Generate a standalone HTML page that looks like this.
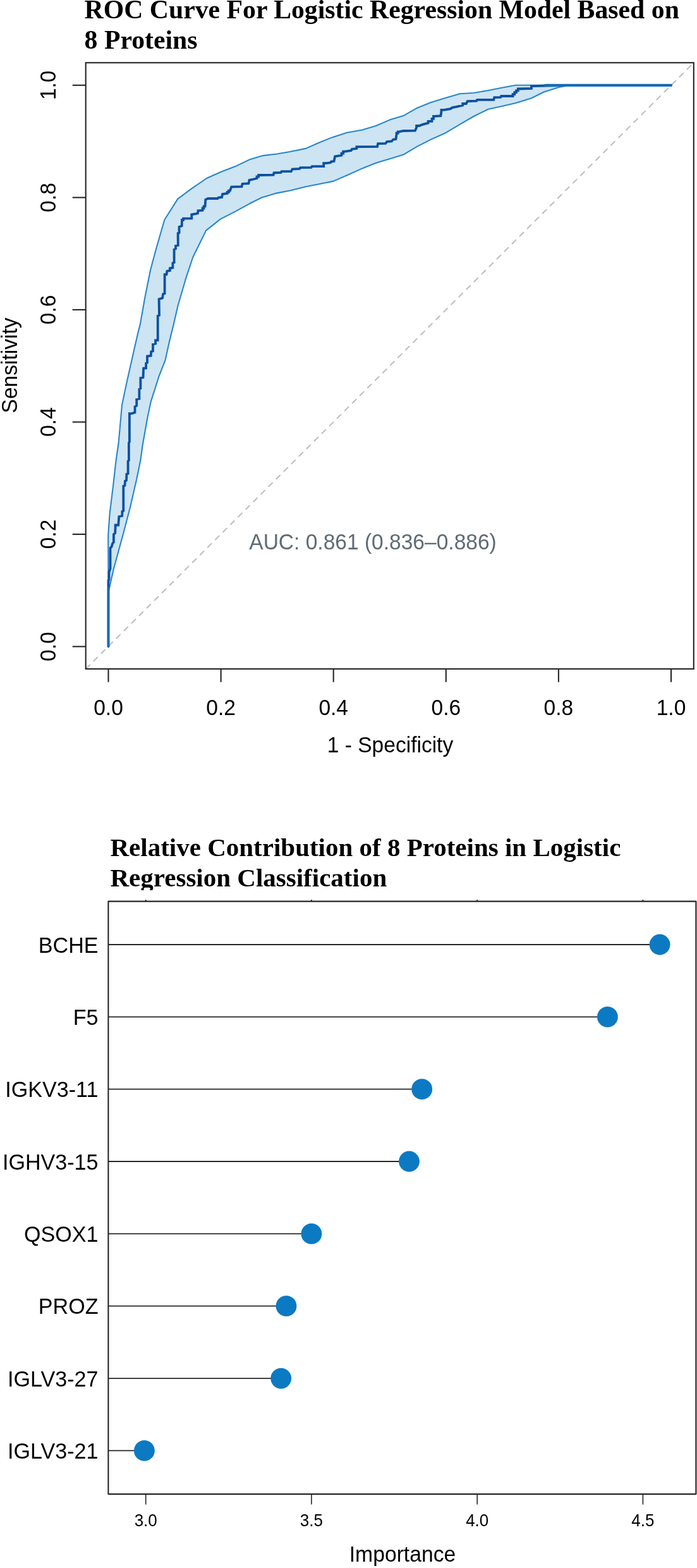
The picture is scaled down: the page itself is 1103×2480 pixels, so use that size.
<!DOCTYPE html>
<html lang="en"><head><meta charset="utf-8"><title>ROC Curve and Protein Importance</title>
<style>
html,body{margin:0;padding:0;background:#fff}
body{width:1103px;height:2480px;overflow:hidden}
svg{display:block}
</style></head><body>
<svg width="1103" height="2480" viewBox="0 0 1103 2480">
<rect width="1103" height="2480" fill="#fff"/>
<g style="font-family:'Liberation Serif',serif;font-weight:bold;font-size:41.75px" fill="#000">
<text x="133.6" y="29.1">ROC Curve For Logistic Regression Model Based on</text>
<text x="133.6" y="77.3">8 Proteins</text>
</g>
<g style="font-family:'Liberation Serif',serif;font-weight:bold;font-size:41px" fill="#000">
<text x="174.5" y="1354">Relative Contribution of 8 Proteins in Logistic</text>
<text x="174.5" y="1402">Regression Classification</text>
</g>
<rect x="160" y="1408" width="900" height="14" fill="#fff"/>
<polygon points="171.5,937.0 171.2,846.9 173.6,812.4 179.0,768.9 183.5,729.0 187.7,700.0 193.0,640.6 199.9,607.9 211.7,555.3 218.0,528.1 222.0,512.0 229.0,472.3 238.1,427.0 247.5,392.0 260.4,347.5 281.3,314.6 303.1,298.3 327.0,282.0 348.8,272.2 372.7,263.1 394.5,252.6 416.2,246.1 438.0,243.5 458.6,240.0 483.9,234.9 503.5,226.2 525.3,217.4 549.2,209.8 573.1,205.5 594.9,199.0 616.7,189.6 638.4,183.1 660.2,170.7 681.9,162.0 703.9,155.3 727.9,148.3 749.6,147.0 771.4,143.3 793.1,139.0 816.0,134.8 1062.0,134.8 1062.0,134.8 901.9,134.8 884.5,137.9 860.6,145.5 841.0,155.3 816.0,162.9 793.1,168.3 772.5,172.7 749.6,184.0 727.9,196.6 703.9,210.8 681.9,220.6 660.2,231.6 638.4,244.6 616.7,251.2 594.9,257.7 573.1,266.4 551.4,276.2 527.4,286.6 505.7,291.0 483.9,295.3 458.6,301.5 435.8,305.9 414.1,312.5 394.5,322.3 374.9,333.1 348.7,346.6 326.0,364.6 305.2,407.0 294.3,439.7 281.6,483.2 274.5,514.0 267.9,540.8 261.5,569.8 251.5,595.2 238.8,635.1 233.4,660.5 225.5,705.0 222.5,727.2 216.2,758.0 206.2,801.5 195.3,843.2 179.9,899.5 171.5,937.0" fill="#cde4f3" stroke="none"/>
<line x1="135.7" y1="1058.0" x2="1097.8" y2="99.2" stroke="#b1bbc0" stroke-width="1.8" stroke-dasharray="9.8 7.2"/>
<polyline points="171.5,937.0 171.2,846.9 173.6,812.4 179.0,768.9 183.5,729.0 187.7,700.0 193.0,640.6 199.9,607.9 211.7,555.3 218.0,528.1 222.0,512.0 229.0,472.3 238.1,427.0 247.5,392.0 260.4,347.5 281.3,314.6 303.1,298.3 327.0,282.0 348.8,272.2 372.7,263.1 394.5,252.6 416.2,246.1 438.0,243.5 458.6,240.0 483.9,234.9 503.5,226.2 525.3,217.4 549.2,209.8 573.1,205.5 594.9,199.0 616.7,189.6 638.4,183.1 660.2,170.7 681.9,162.0 703.9,155.3 727.9,148.3 749.6,147.0 771.4,143.3 793.1,139.0 816.0,134.8 1062.0,134.8" fill="none" stroke="#2686cd" stroke-width="2.1" stroke-linejoin="round"/>
<polyline points="171.5,937.0 179.9,899.5 195.3,843.2 206.2,801.5 216.2,758.0 222.5,727.2 225.5,705.0 233.4,660.5 238.8,635.1 251.5,595.2 261.5,569.8 267.9,540.8 274.5,514.0 281.6,483.2 294.3,439.7 305.2,407.0 326.0,364.6 348.7,346.6 374.9,333.1 394.5,322.3 414.1,312.5 435.8,305.9 458.6,301.5 483.9,295.3 505.7,291.0 527.4,286.6 551.4,276.2 573.1,266.4 594.9,257.7 616.7,251.2 638.4,244.6 660.2,231.6 681.9,220.6 703.9,210.8 727.9,196.6 749.6,184.0 772.5,172.7 793.1,168.3 816.0,162.9 841.0,155.3 860.6,145.5 884.5,137.9 901.9,134.8 1062.0,134.8" fill="none" stroke="#2686cd" stroke-width="2.1" stroke-linejoin="round"/>
<polyline points="171.5,1022.6 171.5,918.0 172.5,917.0 172.5,905.0 174.5,899.5 174.5,866.8 176.5,865.0 178.1,859.6 179.9,857.5 179.9,845.0 182.2,843.0 182.6,834.2 182.6,830.5 187.2,830.5 188.4,817.0 193.2,816.0 193.5,808.8 195.3,807.9 195.3,768.9 197.5,768.0 198.0,760.7 200.0,759.8 200.4,749.9 202.6,749.0 202.6,729.0 203.9,728.1 203.9,700.0 204.9,699.0 204.9,659.6 204.9,654.2 208.0,654.2 213.5,652.3 213.5,643.3 216.2,641.5 216.2,631.5 220.4,630.6 220.4,615.2 222.4,614.3 222.4,597.9 226.5,597.0 227.1,582.5 231.1,582.2 231.1,574.4 233.0,573.5 233.0,563.5 238.8,562.6 239.2,556.2 242.0,555.3 242.0,544.5 246.1,543.5 246.1,538.1 249.7,538.1 249.7,499.5 252.0,498.6 251.6,473.2 257.1,471.4 258.0,465.1 260.6,464.2 260.6,437.0 260.6,434.2 263.5,434.2 264.4,428.8 268.9,427.9 268.9,424.3 273.4,423.4 273.4,416.1 275.6,415.2 275.6,394.3 278.0,393.4 278.0,388.9 281.8,388.0 281.6,369.0 283.6,368.0 283.5,359.0 287.7,357.2 287.9,350.0 287.9,347.9 290.1,347.9 290.1,345.7 292.4,345.7 303.3,345.3 303.3,339.4 312.9,337.5 313.5,333.2 320.5,332.7 320.5,329.5 322.5,329.5 322.5,326.4 324.5,326.4 325.3,315.7 329.2,314.0 344.4,314.0 345.5,312.5 351.0,312.0 352.1,307.0 359.7,305.9 359.7,303.8 361.9,303.8 361.9,301.6 364.0,301.6 366.2,295.7 382.5,295.1 383.6,290.7 393.4,290.1 394.5,284.8 401.0,283.5 406.4,282.0 406.4,279.5 409.1,279.5 409.1,277.0 411.9,277.0 432.6,276.6 433.6,273.3 444.5,272.9 445.6,271.1 460.8,271.1 462.6,267.5 474.0,267.0 475.2,265.2 492.6,264.9 493.7,263.1 512.2,263.1 512.2,258.1 515.5,258.1 523.1,257.3 524.2,255.5 528.5,255.1 530.1,247.5 540.5,245.7 540.5,242.6 543.2,242.6 543.2,239.6 545.9,239.6 555.7,238.1 556.8,235.9 564.4,234.9 564.4,232.2 571.0,232.2 597.1,231.8 598.2,227.2 610.1,226.8 612.3,224.0 619.9,223.5 622.1,220.7 626.4,220.1 627.5,213.1 627.5,210.7 629.7,210.7 629.7,208.3 631.9,208.3 638.4,207.0 656.9,206.6 659.1,201.8 659.1,199.0 663.4,199.0 668.9,196.8 677.6,194.6 677.6,191.8 683.5,191.8 683.5,187.8 686.0,187.8 686.0,183.8 688.6,183.8 697.4,183.1 698.4,177.0 698.4,173.8 702.8,173.8 712.6,172.2 715.9,170.1 722.4,168.8 732.2,166.6 732.2,164.0 737.7,164.0 739.8,160.1 754.0,159.6 755.1,157.9 781.2,157.9 782.3,154.2 792.1,153.8 793.1,152.0 811.6,152.0 811.6,149.1 814.3,149.1 814.3,146.2 817.0,146.2 817.0,143.4 819.8,143.4 819.8,140.5 822.5,140.5 841.0,140.0 841.0,136.1 844.3,136.1 864.9,135.5 900.0,134.8 1062.0,134.8" fill="none" stroke="#0b51a1" stroke-width="3.8" stroke-linejoin="miter" stroke-linecap="round"/>
<line x1="863" y1="134.8" x2="1062" y2="134.8" stroke="#156bb8" stroke-width="4.2" stroke-linecap="round"/>
<line x1="171.5" y1="1022.6" x2="171.5" y2="930" stroke="#156bb8" stroke-width="3.4" stroke-linecap="round"/>
<rect x="135.7" y="99.2" width="962.0999999999999" height="958.8" fill="none" stroke="#262626" stroke-width="2.1"/>
<g stroke="#262626" stroke-width="2.1">
<line x1="171.5" y1="1058.0" x2="171.5" y2="1078.8"/>
<line x1="135.7" y1="1022.6" x2="114.7" y2="1022.6"/>
<line x1="349.6" y1="1058.0" x2="349.6" y2="1078.8"/>
<line x1="135.7" y1="845.0" x2="114.7" y2="845.0"/>
<line x1="527.7" y1="1058.0" x2="527.7" y2="1078.8"/>
<line x1="135.7" y1="667.5" x2="114.7" y2="667.5"/>
<line x1="705.8" y1="1058.0" x2="705.8" y2="1078.8"/>
<line x1="135.7" y1="489.9" x2="114.7" y2="489.9"/>
<line x1="883.9" y1="1058.0" x2="883.9" y2="1078.8"/>
<line x1="135.7" y1="312.4" x2="114.7" y2="312.4"/>
<line x1="1062.0" y1="1058.0" x2="1062.0" y2="1078.8"/>
<line x1="135.7" y1="134.8" x2="114.7" y2="134.8"/>
</g>
<text transform="translate(171.5 1130.8) scale(1 1.035)" style="font-family:'Liberation Sans',sans-serif;font-size:33.55px" fill="#000" text-anchor="middle">0.0</text>
<text transform="translate(88.0 1022.6) rotate(-90) scale(1 1.035)" style="font-family:'Liberation Sans',sans-serif;font-size:33.55px" fill="#000" text-anchor="middle">0.0</text>
<text transform="translate(349.6 1130.8) scale(1 1.035)" style="font-family:'Liberation Sans',sans-serif;font-size:33.55px" fill="#000" text-anchor="middle">0.2</text>
<text transform="translate(88.0 845.0) rotate(-90) scale(1 1.035)" style="font-family:'Liberation Sans',sans-serif;font-size:33.55px" fill="#000" text-anchor="middle">0.2</text>
<text transform="translate(527.7 1130.8) scale(1 1.035)" style="font-family:'Liberation Sans',sans-serif;font-size:33.55px" fill="#000" text-anchor="middle">0.4</text>
<text transform="translate(88.0 667.5) rotate(-90) scale(1 1.035)" style="font-family:'Liberation Sans',sans-serif;font-size:33.55px" fill="#000" text-anchor="middle">0.4</text>
<text transform="translate(705.8 1130.8) scale(1 1.035)" style="font-family:'Liberation Sans',sans-serif;font-size:33.55px" fill="#000" text-anchor="middle">0.6</text>
<text transform="translate(88.0 489.9) rotate(-90) scale(1 1.035)" style="font-family:'Liberation Sans',sans-serif;font-size:33.55px" fill="#000" text-anchor="middle">0.6</text>
<text transform="translate(883.9 1130.8) scale(1 1.035)" style="font-family:'Liberation Sans',sans-serif;font-size:33.55px" fill="#000" text-anchor="middle">0.8</text>
<text transform="translate(88.0 312.4) rotate(-90) scale(1 1.035)" style="font-family:'Liberation Sans',sans-serif;font-size:33.55px" fill="#000" text-anchor="middle">0.8</text>
<text transform="translate(1062.0 1130.8) scale(1 1.035)" style="font-family:'Liberation Sans',sans-serif;font-size:33.55px" fill="#000" text-anchor="middle">1.0</text>
<text transform="translate(88.0 134.8) rotate(-90) scale(1 1.035)" style="font-family:'Liberation Sans',sans-serif;font-size:33.55px" fill="#000" text-anchor="middle">1.0</text>
<text transform="translate(617.5 1190.4) scale(1 1.035)" style="font-family:'Liberation Sans',sans-serif;font-size:33.55px" fill="#000" text-anchor="middle">1 - Specificity</text>
<text transform="translate(26.8 578.0) rotate(-90) scale(1 1.035)" style="font-family:'Liberation Sans',sans-serif;font-size:33.55px" fill="#000" text-anchor="middle">Sensitivity</text>
<text transform="translate(590.0 868.7) scale(1 1.035)" style="font-family:'Liberation Sans',sans-serif;font-size:33.55px" fill="#606c74" text-anchor="middle">AUC: 0.861 (0.836–0.886)</text>
<g stroke="#262626" stroke-width="1.6">
<line x1="230.7" y1="1425.6" x2="230.7" y2="1423.1" stroke-width="2"/>
<line x1="230.7" y1="2363.1" x2="230.7" y2="2379.6"/>
<line x1="492.9" y1="1425.6" x2="492.9" y2="1423.1" stroke-width="2"/>
<line x1="492.9" y1="2363.1" x2="492.9" y2="2379.6"/>
<line x1="755.2" y1="1425.6" x2="755.2" y2="1423.1" stroke-width="2"/>
<line x1="755.2" y1="2363.1" x2="755.2" y2="2379.6"/>
<line x1="1017.4" y1="1425.6" x2="1017.4" y2="1423.1" stroke-width="2"/>
<line x1="1017.4" y1="2363.1" x2="1017.4" y2="2379.6"/>
</g>
<rect x="171.4" y="1425.6" width="930.0" height="937.5" fill="none" stroke="#262626" stroke-width="2.1" stroke-linejoin="round"/>
<line x1="171.4" y1="1494.0" x2="1044.1" y2="1494.0" stroke="#262626" stroke-width="1.8"/>
<circle cx="1044.1" cy="1494.0" r="16.4" fill="#0b7ac3"/>
<line x1="171.4" y1="1608.3" x2="961.4" y2="1608.3" stroke="#262626" stroke-width="1.8"/>
<circle cx="961.4" cy="1608.3" r="16.4" fill="#0b7ac3"/>
<line x1="171.4" y1="1722.7" x2="667.7" y2="1722.7" stroke="#262626" stroke-width="1.8"/>
<circle cx="667.7" cy="1722.7" r="16.4" fill="#0b7ac3"/>
<line x1="171.4" y1="1837.0" x2="647.5" y2="1837.0" stroke="#262626" stroke-width="1.8"/>
<circle cx="647.5" cy="1837.0" r="16.4" fill="#0b7ac3"/>
<line x1="171.4" y1="1951.4" x2="492.9" y2="1951.4" stroke="#262626" stroke-width="1.8"/>
<circle cx="492.9" cy="1951.4" r="16.4" fill="#0b7ac3"/>
<line x1="171.4" y1="2065.7" x2="453.0" y2="2065.7" stroke="#262626" stroke-width="1.8"/>
<circle cx="453.0" cy="2065.7" r="16.4" fill="#0b7ac3"/>
<line x1="171.4" y1="2180.1" x2="444.7" y2="2180.1" stroke="#262626" stroke-width="1.8"/>
<circle cx="444.7" cy="2180.1" r="16.4" fill="#0b7ac3"/>
<line x1="171.4" y1="2294.4" x2="228.4" y2="2294.4" stroke="#262626" stroke-width="1.8"/>
<circle cx="228.4" cy="2294.4" r="16.4" fill="#0b7ac3"/>
<text transform="translate(155.5 1506.7) scale(1 1.035)" style="font-family:'Liberation Sans',sans-serif;font-size:34.1px" fill="#000" text-anchor="end">BCHE</text>
<text transform="translate(155.5 1621.0) scale(1 1.035)" style="font-family:'Liberation Sans',sans-serif;font-size:34.1px" fill="#000" text-anchor="end">F5</text>
<text transform="translate(155.5 1735.4) scale(1 1.035)" style="font-family:'Liberation Sans',sans-serif;font-size:34.1px" fill="#000" text-anchor="end">IGKV3-11</text>
<text transform="translate(155.5 1849.7) scale(1 1.035)" style="font-family:'Liberation Sans',sans-serif;font-size:34.1px" fill="#000" text-anchor="end">IGHV3-15</text>
<text transform="translate(155.5 1964.1) scale(1 1.035)" style="font-family:'Liberation Sans',sans-serif;font-size:34.1px" fill="#000" text-anchor="end">QSOX1</text>
<text transform="translate(155.5 2078.4) scale(1 1.035)" style="font-family:'Liberation Sans',sans-serif;font-size:34.1px" fill="#000" text-anchor="end">PROZ</text>
<text transform="translate(155.5 2192.8) scale(1 1.035)" style="font-family:'Liberation Sans',sans-serif;font-size:34.1px" fill="#000" text-anchor="end">IGLV3-27</text>
<text transform="translate(155.5 2307.1) scale(1 1.035)" style="font-family:'Liberation Sans',sans-serif;font-size:34.1px" fill="#000" text-anchor="end">IGLV3-21</text>
<text transform="translate(230.7 2414.2) scale(1 1.035)" style="font-family:'Liberation Sans',sans-serif;font-size:26px" fill="#000" text-anchor="middle">3.0</text>
<text transform="translate(492.9 2414.2) scale(1 1.035)" style="font-family:'Liberation Sans',sans-serif;font-size:26px" fill="#000" text-anchor="middle">3.5</text>
<text transform="translate(755.2 2414.2) scale(1 1.035)" style="font-family:'Liberation Sans',sans-serif;font-size:26px" fill="#000" text-anchor="middle">4.0</text>
<text transform="translate(1017.4 2414.2) scale(1 1.035)" style="font-family:'Liberation Sans',sans-serif;font-size:26px" fill="#000" text-anchor="middle">4.5</text>
<text transform="translate(637.0 2470.4) scale(1 1.035)" style="font-family:'Liberation Sans',sans-serif;font-size:33.7px" fill="#000" text-anchor="middle">Importance</text>
</svg>
</body></html>
